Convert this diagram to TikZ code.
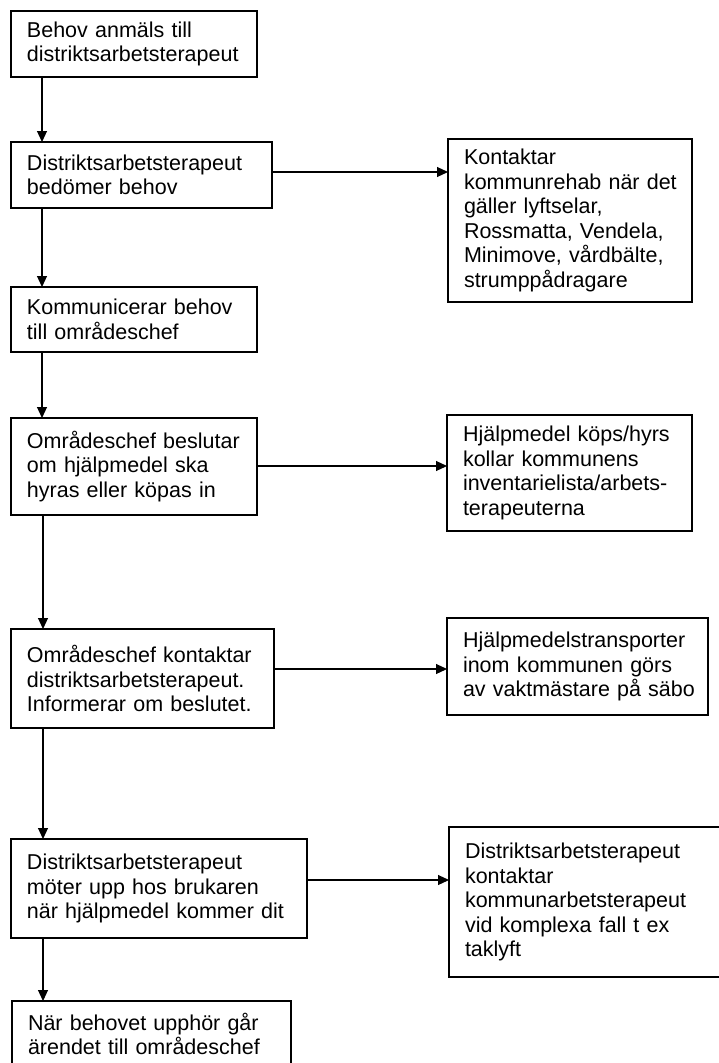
\documentclass[tikz,border=0pt]{standalone}
\usepackage{fontspec}
\setmainfont{Liberation Sans}
\usetikzlibrary{arrows.meta}
\begin{document}
\begin{tikzpicture}[x=1pt,y=-1pt,
  bx/.style={draw=black, line width=1.1pt, anchor=north west, align=left,
    inner xsep=16pt, inner ysep=0pt, outer sep=0pt,
    font={\fontsize{21.5}{24.5}\selectfont}},
  arr/.style={draw=black, line width=1.1pt, -{Triangle[length=11pt,width=10pt]}}]
\useasboundingbox[fill=white] (0,0) rectangle (719,1063);
% left column
\node[bx, minimum width=246pt, text width=214pt, minimum height=66pt] (b1) at (11,11)
  {\mbox{Behov anmäls till}\\\mbox{distriktsarbetsterapeut}};
\node[bx, minimum width=261pt, text width=229pt, minimum height=66pt] (b2) at (11,142)
  {\mbox{Distriktsarbetsterapeut}\\\mbox{bedömer behov}};
\node[bx, minimum width=246pt, text width=214pt, minimum height=65pt] (b3) at (11,287)
  {\mbox{Kommunicerar behov}\\\mbox{till områdeschef}};
\node[bx, minimum width=246pt, text width=214pt, minimum height=97pt] (b4) at (11,418)
  {\mbox{Områdeschef beslutar}\\\mbox{om hjälpmedel ska}\\\mbox{hyras eller köpas in}};
\node[bx, minimum width=263pt, text width=231pt, minimum height=99pt] (b5) at (11,629)
  {\mbox{Områdeschef kontaktar}\\\mbox{distriktsarbetsterapeut.}\\\mbox{Informerar om beslutet.}};
\node[bx, minimum width=296pt, text width=264pt, minimum height=99pt] (b6) at (11,839)
  {\mbox{Distriktsarbetsterapeut}\\\mbox{möter upp hos brukaren}\\\mbox{när hjälpmedel kommer dit}};
\node[bx, minimum width=279pt, text width=247pt, minimum height=66pt] (b7) at (12,1001)
  {\mbox{När behovet upphör går}\\\mbox{ärendet till områdeschef}};
% right column
\node[bx, minimum width=244pt, text width=212pt, minimum height=163pt] (r1) at (448,139)
  {\mbox{Kontaktar}\\\mbox{kommunrehab när det}\\\mbox{gäller lyftselar,}\\\mbox{Rossmatta, Vendela,}\\\mbox{Minimove, vårdbälte,}\\\mbox{strumppådragare}};
\node[bx, minimum width=245pt, text width=213pt, minimum height=116pt] (r2) at (447,415)
  {\mbox{Hjälpmedel köps/hyrs}\\\mbox{kollar kommunens}\\\mbox{inventarielista/arbets-}\\\mbox{terapeuterna}};
\node[bx, minimum width=261pt, text width=229pt, minimum height=97pt] (r3) at (447,618)
  {\mbox{Hjälpmedelstransporter}\\\mbox{inom kommunen görs}\\\mbox{av vaktmästare på säbo}};
\node[bx, minimum width=286pt, text width=254pt, minimum height=150pt] (r4) at (449,827)
  {\mbox{Distriktsarbetsterapeut}\\\mbox{kontaktar}\\\mbox{kommunarbetsterapeut}\\\mbox{vid komplexa fall t ex}\\\mbox{taklyft}};
% vertical connectors
\draw[arr] (b1.south -| 42,0) -- (b2.north -| 42,0);
\draw[arr] (b2.south -| 42,0) -- (b3.north -| 42,0);
\draw[arr] (b3.south -| 42,0) -- (b4.north -| 42,0);
\draw[arr] (b4.south -| 43,0) -- (b5.north -| 43,0);
\draw[arr] (b5.south -| 43,0) -- (b6.north -| 43,0);
\draw[arr] (b6.south -| 43,0) -- (b7.north -| 43,0);
% horizontal connectors
\draw[arr] (b2.east |- 0,172) -- (r1.west |- 0,172);
\draw[arr] (b4.east |- 0,466) -- (r2.west |- 0,466);
\draw[arr] (b5.east |- 0,669) -- (r3.west |- 0,669);
\draw[arr] (b6.east |- 0,880) -- (r4.west |- 0,880);
\end{tikzpicture}
\end{document}
